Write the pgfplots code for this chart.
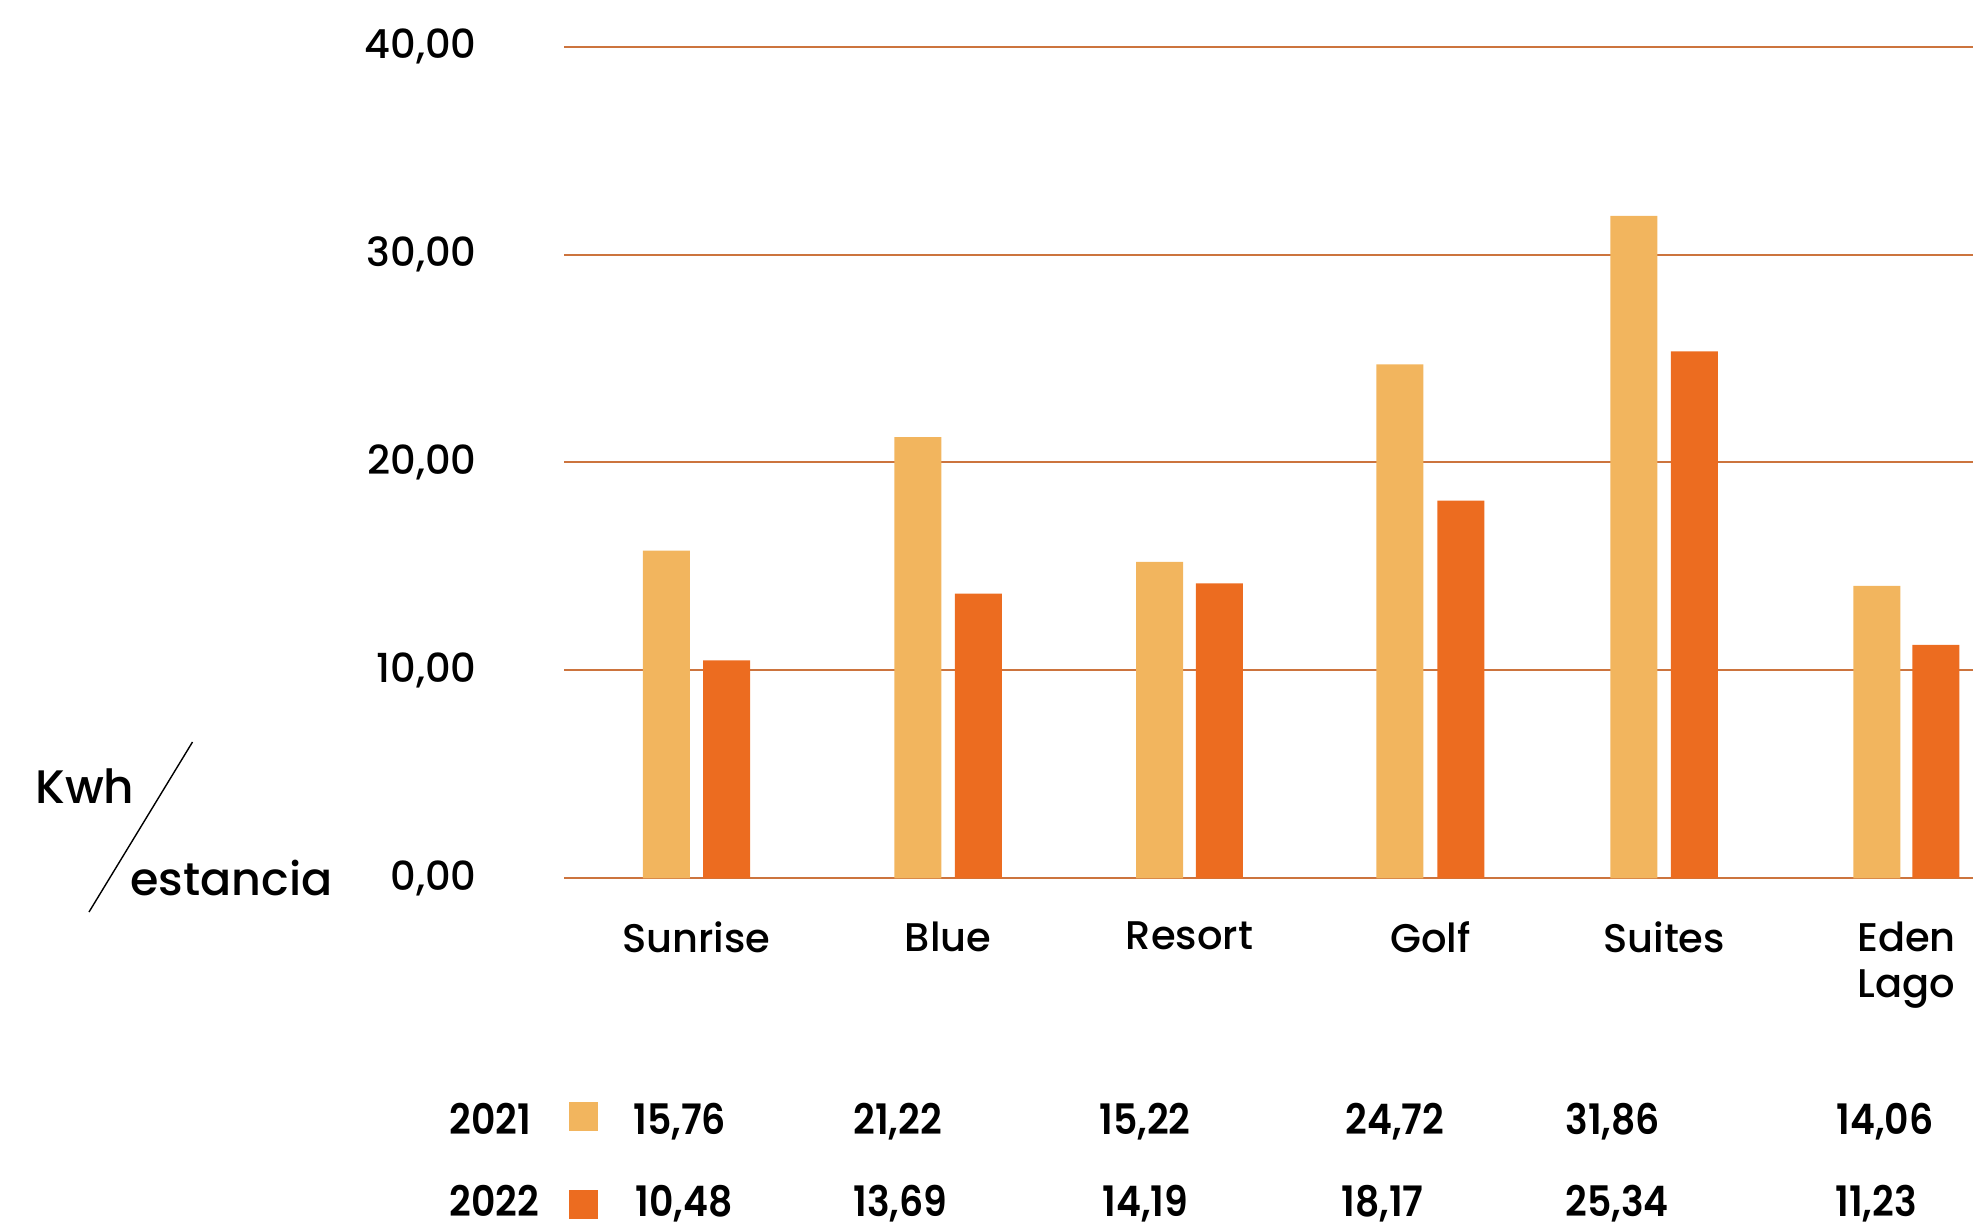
\documentclass[border=0pt]{standalone}
\usepackage{pgfplots}
\pgfplotsset{compat=1.18}
\usepackage{fontspec}
\setmainfont{Poppins}[UprightFont=* Medium, BoldFont=* SemiBold]
\usepackage{graphicx}
\definecolor{c21}{RGB}{242,181,94}
\definecolor{c22}{RGB}{236,108,32}
\definecolor{gridc}{RGB}{204,116,62}
\newcommand{\tabnum}[1]{\scalebox{0.9}[1]{\bfseries #1}}
\begin{document}
\begin{tikzpicture}
\path[use as bounding box] (0,0) rectangle (986.5pt,-615pt);
\begin{axis}[
  at={(282pt,-439.15pt)}, anchor=south west,
  scale only axis, width=704.5pt, height=415.85pt,
  xmin=564, xmax=1973, ymin=0, ymax=40,
  axis line style={draw=none},
  ytick={0,10,20,30,40},
  yticklabels={{0,00},{10,00},{20,00},{30,00},{40,00}},
  ymajorgrids, grid style={gridc, line width=1pt},
  major tick length=0pt,
  xtick={696.5,948.1,1189.4,1430.4,1664.1,1906.4},
  xticklabels={Sunrise,Blue,Resort,Golf,Suites,{Eden\\Lago}},
  ticklabel style={font=\fontsize{20}{23}\selectfont},
  yticklabel style={anchor=east, inner sep=0pt, xshift=-43.5pt},
  xticklabel style={anchor=north, inner sep=0pt, yshift=-21.5pt, align=center},
  ybar, bar width=47,
  clip=false,
]
\addplot[ybar, bar shift=0pt, fill=c21, draw=none] coordinates {
  (666.3,15.76) (917.9,21.22) (1159.5,15.22) (1399.9,24.72) (1633.9,31.86) (1876.8,14.06)};
\addplot[ybar, bar shift=0pt, fill=c22, draw=none] coordinates {
  (726.7,10.48) (978.3,13.69) (1219.3,14.19) (1460.9,18.17) (1694.3,25.34) (1935.9,11.23)};
\end{axis}
\begin{scope}[x=0.5pt,y=-0.5pt]
\node[anchor=base west, inner sep=0pt, font=\fontsize{23.5}{28}\selectfont] at (35,803) {Kwh};
\node[anchor=base west, inner sep=0pt, font=\fontsize{23}{28}\selectfont] at (130,895) {estancia};
\draw[line width=0.7pt] (192.5,742) -- (89,912);
\fill[c21] (569,1102) rectangle (598,1131);
\fill[c22] (569,1190) rectangle (598,1219);
\begin{scope}[every node/.style={anchor=base west, inner sep=0pt, font=\fontsize{21}{24}\selectfont}]
\node at (449,1134) {\tabnum{2021}};
\node at (449,1216) {\tabnum{2022}};
\node at (633,1134) {\tabnum{15,76}};
\node at (853,1134) {\tabnum{21,22}};
\node at (1099,1134) {\tabnum{15,22}};
\node at (1345,1134) {\tabnum{24,72}};
\node at (1565,1134) {\tabnum{31,86}};
\node at (1836,1134) {\tabnum{14,06}};
\node at (635,1216) {\tabnum{10,48}};
\node at (853,1216) {\tabnum{13,69}};
\node at (1102,1216) {\tabnum{14,19}};
\node at (1341,1216) {\tabnum{18,17}};
\node at (1565,1216) {\tabnum{25,34}};
\node at (1835,1216) {\tabnum{11,23}};
\end{scope}
\end{scope}
\end{tikzpicture}
\end{document}
